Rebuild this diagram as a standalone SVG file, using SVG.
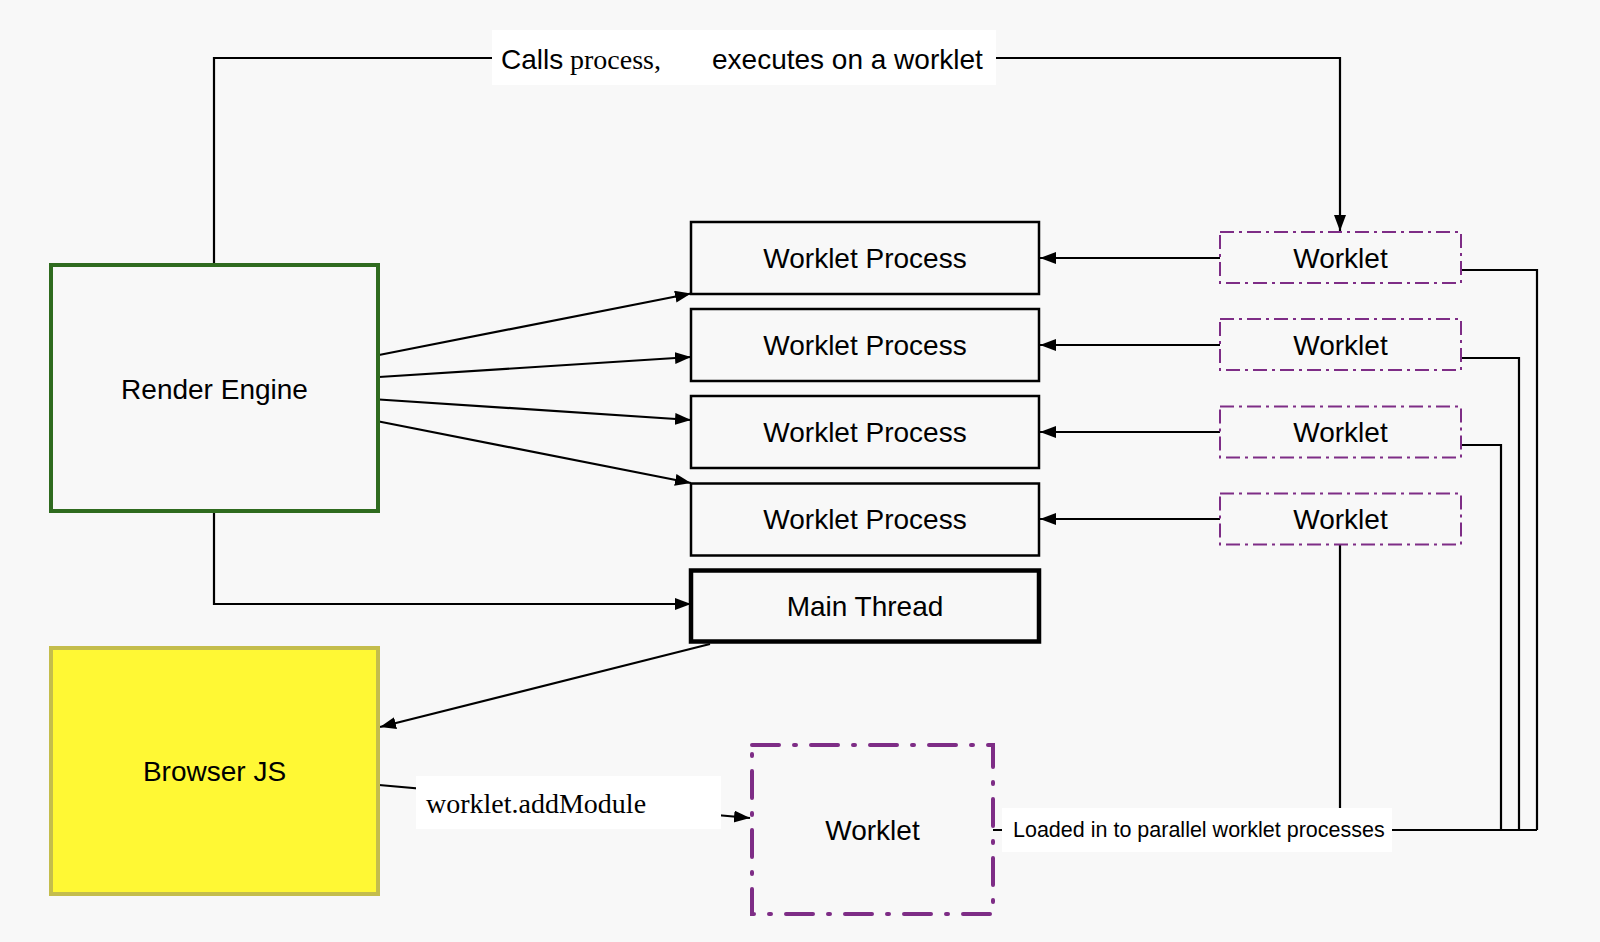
<svg xmlns="http://www.w3.org/2000/svg" width="1600" height="942" viewBox="0 0 1600 942">
<defs>
<marker id="arr" markerUnits="userSpaceOnUse" markerWidth="18" markerHeight="13" refX="16" refY="6" orient="auto">
<path d="M0,0 L16,6 L0,12 z" fill="#000"/>
</marker>
<style>
.sans{font-family:"Liberation Sans",Arial,Helvetica,sans-serif;fill:#000}
.serif{font-family:"Liberation Serif","Times New Roman",serif;fill:#000}
.t28{font-size:28px}
.box{fill:#f8f8f8;stroke:#000;stroke-width:2.5}
.wk{fill:#f8f8f8;stroke:#7e2d86;stroke-width:2;stroke-dasharray:14 5 3 5}
.wkbig{fill:#f8f8f8;stroke:#7e2d86;stroke-width:4;stroke-linecap:round;stroke-dasharray:27 15 2 15}
.ln{fill:none;stroke:#000;stroke-width:2.2}
.lbl{fill:#fff}
</style>
</defs>
<rect x="0" y="0" width="1600" height="942" fill="#f8f8f8"/>

<g id="connectors">
<path class="ln" d="M214,265 V58 H1340 V231" marker-end="url(#arr)"/>
<path class="ln" d="M379,355 L691,293.5" marker-end="url(#arr)"/>
<path class="ln" d="M379,377 L691,357" marker-end="url(#arr)"/>
<path class="ln" d="M379,399.5 L691,420" marker-end="url(#arr)"/>
<path class="ln" d="M379,421.5 L691,483" marker-end="url(#arr)"/>
<path class="ln" d="M214,511 V604 H691" marker-end="url(#arr)"/>
<path class="ln" d="M1220,258 H1040" marker-end="url(#arr)"/>
<path class="ln" d="M1220,345 H1040" marker-end="url(#arr)"/>
<path class="ln" d="M1220,432 H1040" marker-end="url(#arr)"/>
<path class="ln" d="M1220,519 H1040" marker-end="url(#arr)"/>
<path class="ln" d="M710,644 L380,727" marker-end="url(#arr)"/>
<path class="ln" d="M379,785 L750,818" marker-end="url(#arr)"/>
<path class="ln" d="M993,830 H1537"/>
<path class="ln" d="M1461,270 H1537 V830"/>
<path class="ln" d="M1461,358 H1519 V830"/>
<path class="ln" d="M1461,445 H1501 V830"/>
<path class="ln" d="M1340,545 V830"/>
<rect class="lbl" x="492" y="30" width="504" height="55"/>
<text class="sans t28" x="501" y="69">Calls</text>
<text class="serif t28" x="570" y="69">process,</text>
<text class="sans t28" x="712" y="69">executes on a worklet</text>
<rect class="lbl" x="416" y="776" width="305" height="53"/>
<text class="serif t28" x="426" y="813">worklet.addModule</text>
<rect class="lbl" x="1002" y="808" width="390" height="44"/>
<text class="sans" font-size="21.5" x="1013" y="837">Loaded in to parallel worklet processes</text>
</g>

<g id="render-engine">
<rect x="51" y="265" width="327" height="246" fill="#f8f8f8" stroke="#2f6b1f" stroke-width="4"/>
<text class="sans t28" x="214.5" y="399" text-anchor="middle">Render Engine</text>
</g>

<g id="worklet-process-1">
<rect class="box" x="691" y="222" width="348" height="72"/>
<text class="sans t28" x="865" y="268" text-anchor="middle">Worklet Process</text>
</g>
<g id="worklet-process-2">
<rect class="box" x="691" y="309" width="348" height="72"/>
<text class="sans t28" x="865" y="355" text-anchor="middle">Worklet Process</text>
</g>
<g id="worklet-process-3">
<rect class="box" x="691" y="396" width="348" height="72"/>
<text class="sans t28" x="865" y="442" text-anchor="middle">Worklet Process</text>
</g>
<g id="worklet-process-4">
<rect class="box" x="691" y="483.5" width="348" height="72"/>
<text class="sans t28" x="865" y="529" text-anchor="middle">Worklet Process</text>
</g>
<g id="main-thread">
<rect x="691" y="570.5" width="348" height="71" fill="#f8f8f8" stroke="#000" stroke-width="4.5"/>
<text class="sans t28" x="865" y="616" text-anchor="middle">Main Thread</text>
</g>

<g id="worklet-1">
<rect class="wk" x="1220" y="232" width="241" height="51"/>
<text class="sans t28" x="1340.5" y="268" text-anchor="middle">Worklet</text>
</g>
<g id="worklet-2">
<rect class="wk" x="1220" y="319" width="241" height="51"/>
<text class="sans t28" x="1340.5" y="355" text-anchor="middle">Worklet</text>
</g>
<g id="worklet-3">
<rect class="wk" x="1220" y="406.5" width="241" height="51"/>
<text class="sans t28" x="1340.5" y="442" text-anchor="middle">Worklet</text>
</g>
<g id="worklet-4">
<rect class="wk" x="1220" y="493.5" width="241" height="51"/>
<text class="sans t28" x="1340.5" y="529" text-anchor="middle">Worklet</text>
</g>

<g id="browser-js">
<rect x="51" y="648" width="327" height="246" fill="#fff834" stroke="#c4bd4c" stroke-width="4"/>
<text class="sans t28" x="214.5" y="781" text-anchor="middle">Browser JS</text>
</g>

<g id="worklet-main">
<rect class="wkbig" x="752" y="745" width="241" height="169"/>
<text class="sans t28" x="872.5" y="840" text-anchor="middle">Worklet</text>
</g>
</svg>
